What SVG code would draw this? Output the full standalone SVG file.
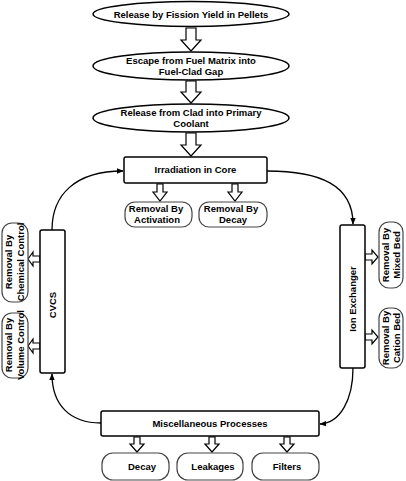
<svg xmlns="http://www.w3.org/2000/svg" width="406" height="481" viewBox="0 0 406 481">
<defs>
<style>
.sh{fill:#fff;stroke:#000;stroke-width:1.5}
.rb{fill:#fff;stroke:#444;stroke-width:1.2}
.ha{fill:#fff;stroke:#000;stroke-width:1.2;stroke-linejoin:miter}
.cn{fill:none;stroke:#000;stroke-width:1.3}
text{font-family:"Liberation Sans",Arial,sans-serif;font-weight:bold;font-size:9.5px;fill:#000;text-anchor:middle}
</style>
<marker id="ah" viewBox="0 0 10 10" refX="9" refY="5" markerWidth="7" markerHeight="7" orient="auto" markerUnits="userSpaceOnUse">
<path d="M0,1 L10,5 L0,9 Z" fill="#000"/>
</marker>
</defs>
<rect width="406" height="481" fill="#fff"/>

<g id="connectors">
<path class="ha" d="M186,28 H196 V40 H201 L191,51 L181,40 H186 Z"/>
<path class="ha" d="M186,81 H196 V92 H201 L191,103 L181,92 H186 Z"/>
<path class="ha" d="M186,133 H196 V145 H201 L191,156 L181,145 H186 Z"/>
<path class="ha" d="M157,184 H163 V192 H167 L160,201 L153,192 H157 Z"/>
<path class="ha" d="M232,184 H238 V192 H242 L235,201 L228,192 H232 Z"/>
<path class="ha" d="M40,256 V262 H33 V266 L28,259 L33,252 V256 Z"/>
<path class="ha" d="M40,343 V349 H33 V353 L28,346 L33,339 V343 Z"/>
<path class="ha" d="M365,254 V260 H372 V264 L378,257 L372,250 V254 Z"/>
<path class="ha" d="M365,334 V340 H372 V344 L378,337 L372,330 V334 Z"/>
<path class="ha" d="M134,437 H140 V444 H144 L137,452 L130,444 H134 Z"/>
<path class="ha" d="M209,437 H215 V444 H219 L212,452 L205,444 H209 Z"/>
<path class="ha" d="M284,437 H290 V444 H294 L287,452 L280,444 H284 Z"/>
<path class="cn" d="M267,171 C320,171 353,185 353,224" marker-end="url(#ah)"/>
<path class="cn" d="M353,368 C353,400 340,423 320,424" marker-end="url(#ah)"/>
<path class="cn" d="M101,423 C70,423 52,405 52,374" marker-end="url(#ah)"/>
<path class="cn" d="M52,230 C52,195 75,171 123,171" marker-end="url(#ah)"/>
</g>

<g id="n1"><ellipse class="sh" cx="191" cy="14" rx="98" ry="12.5"/><text x="191" y="17.5">Release by Fission Yield in Pellets</text></g>
<g id="n2"><ellipse class="sh" cx="191" cy="66" rx="98" ry="14"/><text x="191" y="63.5">Escape from Fuel Matrix into</text><text x="191" y="74.5">Fuel-Clad Gap</text></g>
<g id="n3"><ellipse class="sh" cx="191" cy="118" rx="98" ry="14"/><text x="191" y="115.5">Release from Clad into Primary</text><text x="191" y="126.5">Coolant</text></g>
<g id="n4"><rect class="sh" x="124" y="157" width="143" height="26" rx="2"/><text x="195.5" y="172.5">Irradiation in Core</text></g>
<g id="n5"><rect class="rb" x="125" y="202" width="67" height="25" rx="10"/><text x="156" y="211.5">Removal By</text><text x="157" y="222.5">Activation</text></g>
<g id="n6"><rect class="rb" x="199" y="202" width="68" height="25" rx="10"/><text x="231" y="211.5">Removal By</text><text x="233" y="222.5">Decay</text></g>
<g id="n7"><rect class="sh" x="40" y="230" width="25" height="143" rx="2"/><text transform="translate(56,305) rotate(-90)">CVCS</text></g>
<g id="n8"><rect class="rb" x="2" y="223" width="26" height="79" rx="10"/><text transform="translate(12,262) rotate(-90)">Removal By</text><text transform="translate(24,262) rotate(-90)">Chemical Control</text></g>
<g id="n9"><rect class="rb" x="2" y="313" width="26" height="65" rx="10"/><text transform="translate(12,345) rotate(-90)">Removal By</text><text transform="translate(24,345) rotate(-90)">Volume Control</text></g>
<g id="n10"><rect class="sh" x="340" y="225" width="25" height="143" rx="2"/><text transform="translate(356,299) rotate(-90)">Ion Exchanger</text></g>
<g id="n11"><rect class="rb" x="379" y="222" width="24" height="66" rx="10"/><text transform="translate(389,255) rotate(-90)">Removal By</text><text transform="translate(400,255) rotate(-90)">Mixed Bed</text></g>
<g id="n12"><rect class="rb" x="379" y="308" width="24" height="60" rx="10"/><text transform="translate(389,338) rotate(-90)">Removal By</text><text transform="translate(400,338) rotate(-90)">Cation Bed</text></g>
<g id="n13"><rect class="sh" x="101" y="411" width="218" height="25" rx="2"/><text x="210" y="426.5">Miscellaneous Processes</text></g>
<g id="n14"><rect class="rb" x="102" y="453" width="67" height="27" rx="11"/><text x="142" y="469.5">Decay</text></g>
<g id="n15"><rect class="rb" x="177" y="453" width="66" height="27" rx="11"/><text x="213" y="469.5">Leakages</text></g>
<g id="n16"><rect class="rb" x="252" y="453" width="67" height="27" rx="11"/><text x="287" y="469.5">Filters</text></g>
</svg>
